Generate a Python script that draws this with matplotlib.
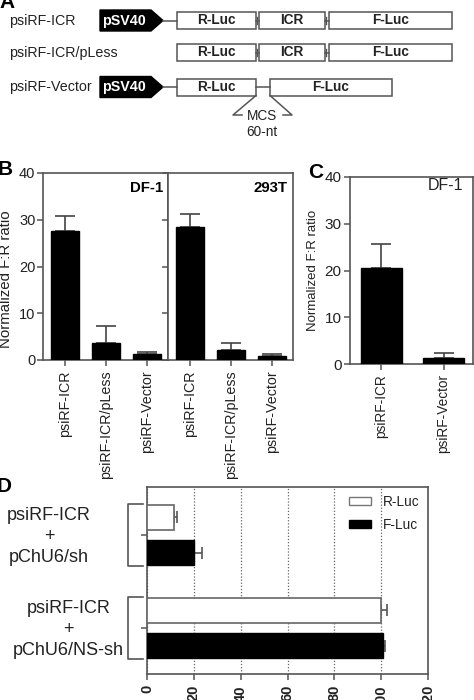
import matplotlib
matplotlib.use('Agg')
import matplotlib.pyplot as plt
import numpy as np
from matplotlib.patches import Rectangle, Polygon, Patch
from matplotlib.transforms import blended_transform_factory

plt.rcParams['font.family'] = ['Liberation Sans', 'DejaVu Sans']

# panel A - constructs
constructs = ['psiRF-ICR', 'psiRF-ICR/pLess', 'psiRF-Vector']
has_promoter = [True, False, True]
parts = [['R-Luc', 'ICR', 'F-Luc'], ['R-Luc', 'ICR', 'F-Luc'], ['R-Luc', 'F-Luc']]
promoter = 'pSV40'
mcs_label = 'MCS'
mcs_len = '60-nt'

# panel B
b_labels = ['psiRF-ICR', 'psiRF-ICR/pLess', 'psiRF-Vector']
b_cells = ['DF-1', '293T']
b_df1 = [27.7, 3.6, 1.3]
b_df1_err = [3.1, 3.6, 0.4]
b_293t = [28.4, 2.1, 0.9]
b_293t_err = [2.9, 1.5, 0.3]

# panel C
c_cell = 'DF-1'
c_labels = ['psiRF-ICR', 'psiRF-Vector']
c_vals = [20.6, 1.3]
c_err = [5.1, 1.05]

# panel D
d_groups = ['psiRF-ICR\n+\npChU6/sh', 'psiRF-ICR\n+\npChU6/NS-sh']
d_series = ['R-Luc', 'F-Luc']
d_rluc = [11.5, 100.0]
d_rluc_err = [1.2, 2.6]
d_fluc = [20.1, 100.6]
d_fluc_err = [3.3, 1.0]
d_ticks = [0, 20, 40, 60, 80, 100, 120]

W, H = 474, 700
GRAY = '#555555'
TXT = '#222222'

fig = plt.figure(figsize=(W / 100, H / 100), dpi=100)


def box(l, t, r, b):
    # pixel box -> figure fraction rect
    return [l / W, 1 - b / H, (r - l) / W, (b - t) / H]


def style(ax):
    for s in ax.spines.values():
        s.set_color(GRAY)
        s.set_linewidth(1.2)
    ax.tick_params(colors=GRAY, labelcolor=TXT, length=4, width=1.1)


# ---------- A ----------
axa = fig.add_axes([0, 1 - 150 / H, 1, 150 / H])
axa.set_xlim(0, W)
axa.set_ylim(150, 0)
axa.axis('off')

row_y = [20.5, 52.5, 87]
row_boxes = [[(177, 256), (259, 325), (329, 452)],
             [(177, 256), (259, 325), (329, 452)],
             [(177, 256), (270, 392)]]
bh = 17
for i, name in enumerate(constructs):
    y = row_y[i]
    axa.text(9, y, name, fontsize=10.3, color=TXT, va='center', ha='left')
    if has_promoter[i]:
        axa.add_patch(Polygon([(100, y - 10.5), (151, y - 10.5), (163, y), (151, y + 10.5), (100, y + 10.5)],
                              closed=True, fc='black', ec='black', lw=1))
        axa.text(124, y, promoter, color='white', fontsize=10.3, fontweight='bold', ha='center', va='center')
        axa.plot([163, 177], [y, y], color=GRAY, lw=1.1)
    bxs = row_boxes[i]
    for j, p in enumerate(parts[i]):
        l, r = bxs[j]
        axa.add_patch(Rectangle((l, y - bh / 2), r - l, bh, fc='white', ec=GRAY, lw=1.1))
        axa.text((l + r) / 2, y, p, fontsize=9.8, fontweight='bold', color=TXT, ha='center', va='center')
        if j > 0:
            pl = bxs[j - 1][1]
            axa.plot([pl, l], [y, y], color=GRAY, lw=1.1)
            if l - pl < 6:
                axa.plot([pl + 1.2, pl + 1.2], [y - 3.5, y + 3.5], color=GRAY, lw=1.0)

# MCS insert marker
yb = row_y[2] + bh / 2
axa.plot([256, 233, 242], [yb, 115, 115], color=GRAY, lw=1.1)
axa.plot([270, 292, 283], [yb, 115, 115], color=GRAY, lw=1.1)
axa.text(262, 115.5, mcs_label, fontsize=9.8, color=TXT, ha='center', va='center')
axa.text(262, 132, mcs_len, fontsize=9.8, color=TXT, ha='center', va='center')


# ---------- B ----------
def bars(ax, vals, errs, labels, width, capsize, fs):
    x = np.arange(len(vals))
    ax.bar(x, vals, width, color='black', edgecolor='black', zorder=3)
    ax.errorbar(x, vals, yerr=[np.zeros(len(vals)), errs], fmt='none', ecolor='#444444',
                elinewidth=1.2, capsize=capsize, capthick=1.2, zorder=2)
    ax.set_ylim(0, 40)
    ax.set_yticks([0, 10, 20, 30, 40])
    ax.set_xticks(x)
    ax.set_xticklabels(labels, rotation=90, fontsize=fs)
    style(ax)


axb1 = fig.add_axes(box(43, 173, 168, 360))
axb2 = fig.add_axes(box(168, 173, 293, 360))
bars(axb1, b_df1, b_df1_err, b_labels, 0.68, 7.2, 10.3)
bars(axb2, b_293t, b_293t_err, b_labels, 0.68, 7.2, 10.3)
for ax in (axb1, axb2):
    ax.set_xlim(-0.53, 2.52)
axb1.tick_params(axis='y', labelsize=10.5, pad=1.5)
axb2.tick_params(axis='y', labelleft=False)
axb1.set_ylabel('Normalized F:R ratio', fontsize=10.8, color=TXT)
axb1.yaxis.set_label_coords(-0.24, 0.43)
axb1.text(0.96, 0.955, b_cells[0], transform=axb1.transAxes, fontsize=10.8, fontweight='bold',
          color='black', ha='right', va='top')
axb2.text(0.96, 0.955, b_cells[1], transform=axb2.transAxes, fontsize=10.8, fontweight='bold',
          color='black', ha='right', va='top')

# ---------- C ----------
axc = fig.add_axes(box(350, 177, 473, 364))
bars(axc, c_vals, c_err, c_labels, 0.65, 7, 9.8)
axc.set_xlim(-0.5, 1.47)
axc.tick_params(axis='y', labelsize=11, pad=2)
axc.set_ylabel('Normalized F:R ratio', fontsize=9.5, color=TXT, labelpad=4)
axc.text(0.92, 0.957, c_cell, transform=axc.transAxes, fontsize=11.5, color=TXT, ha='right', va='center')

# ---------- D ----------
axd = fig.add_axes(box(147, 487, 428, 674))
g = np.arange(len(d_groups))
off, hh = 0.19, 0.27
axd.barh(g - off, d_rluc, hh, color='white', edgecolor='#666666', lw=1.2, zorder=3)
axd.barh(g + off, d_fluc, hh, color='black', edgecolor='black', zorder=3)
axd.errorbar(d_rluc, g - off, xerr=[np.zeros(len(g)), d_rluc_err], fmt='none', ecolor='#555555',
             elinewidth=1.2, capsize=4.2, capthick=1.2, zorder=2)
axd.errorbar(d_fluc, g + off, xerr=[np.zeros(len(g)), d_fluc_err], fmt='none', ecolor='#555555',
             elinewidth=1.2, capsize=4.2, capthick=1.2, zorder=2)
axd.set_xlim(0, 120)
axd.set_ylim(1.495, -0.516)
axd.set_xticks(d_ticks)
axd.set_xticklabels([str(t) for t in d_ticks], rotation=90, fontsize=10.5, fontweight='bold')
axd.set_yticks(g)
axd.set_yticklabels([])
axd.xaxis.grid(True, ls=(0, (1, 1.5)), color='#666666', lw=0.9)
axd.set_axisbelow(True)
style(axd)
axd.tick_params(axis='x', pad=4)

tr = blended_transform_factory(axd.transAxes, axd.transData)
label_x = [-0.349, -0.279]
for i, lab in enumerate(d_groups):
    axd.plot([-0.014, -0.068, -0.068, -0.014], [i - 0.333, i - 0.333, i + 0.333, i + 0.333],
             transform=tr, clip_on=False, color=GRAY, lw=1.2)
    axd.text(label_x[i], i + 0.02, lab, transform=tr, ha='center', va='center', fontsize=13,
             color=TXT, linespacing=1.3)

handles = [Patch(fc='white', ec='#777777', lw=1), Patch(fc='black', ec='black')]
axd.legend(handles, d_series, loc='upper right', bbox_to_anchor=(1.0, 1.0), frameon=False,
           fontsize=9.8, handlelength=1.6, handleheight=0.55, handletextpad=0.9,
           labelspacing=0.65, borderaxespad=0.2, labelcolor=TXT)

# panel letters
for letter, x, yb in [('A', -1, 8), ('B', -2, 175), ('C', 308, 178), ('D', -3, 492)]:
    fig.text(x / W, 1 - yb / H, letter, fontsize=15, fontweight='bold', color='black',
             ha='left', va='baseline')

fig.savefig('out.png', dpi=100)
